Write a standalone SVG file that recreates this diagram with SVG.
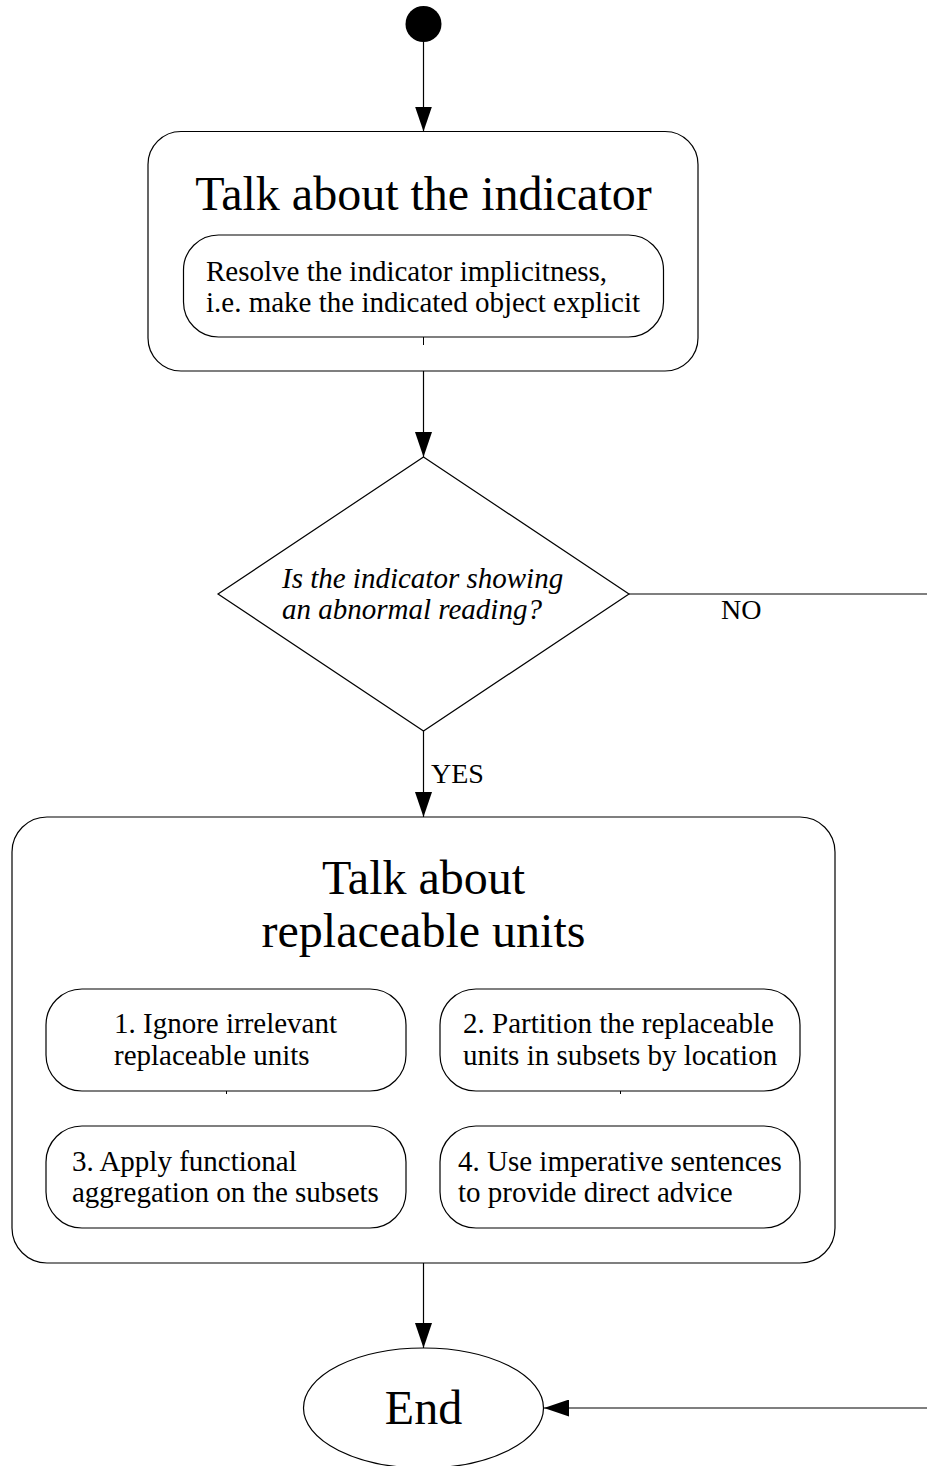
<svg xmlns="http://www.w3.org/2000/svg" width="927" height="1466" viewBox="0 0 927 1466">
  <style>
    .box { fill: #fff; stroke: #000; stroke-width: 1.2; }
    .edge { fill: none; stroke: #000; stroke-width: 1.2; }
    .tick { stroke: #000; stroke-width: 1; }
    text { font-family: "Liberation Serif", "Times New Roman", serif; fill: #000; }
    .title { font-size: 48px; text-anchor: middle; }
    .body { font-size: 29px; }
    .question { font-size: 29px; font-style: italic; }
    .label { font-size: 28px; }
  </style>
  <defs>
    <marker id="arrow" markerUnits="userSpaceOnUse" markerWidth="25" markerHeight="17" refX="25" refY="8.5" orient="auto">
      <path d="M0,0 L25,8.5 L0,17 Z" fill="#000"/>
    </marker>
  </defs>

  <rect width="927" height="1466" fill="#fff"/>

  <!-- flow connectors -->
  <g id="connectors">
    <line class="edge" x1="423.5" y1="42" x2="423.5" y2="131.5" marker-end="url(#arrow)"/>
    <line class="edge" x1="423.5" y1="371" x2="423.5" y2="457" marker-end="url(#arrow)"/>
    <line class="edge" x1="423.5" y1="731" x2="423.5" y2="817" marker-end="url(#arrow)"/>
    <text class="label" x="431" y="783">YES</text>
    <path class="edge" d="M629,594 H945 V1408 H544" marker-end="url(#arrow)"/>
    <text class="label" x="721" y="619">NO</text>
    <line class="edge" x1="423.5" y1="1263" x2="423.5" y2="1348" marker-end="url(#arrow)"/>
  </g>

  <!-- initial state -->
  <g id="start">
    <circle cx="423.5" cy="24" r="18" fill="#000"/>
  </g>

  <!-- state: talk about the indicator -->
  <g id="indicator">
    <rect class="box" x="148" y="131.5" width="550" height="239.5" rx="33" ry="33"/>
    <text class="title" x="423.5" y="210">Talk about the indicator</text>
    <rect class="box" x="183.5" y="235" width="480" height="102" rx="35" ry="35"/>
    <line class="tick" x1="423.5" y1="337" x2="423.5" y2="345"/>
    <text class="body" x="206" y="281">Resolve the indicator implicitness,</text>
    <text class="body" x="206" y="312">i.e. make the indicated object explicit</text>
  </g>

  <!-- decision -->
  <g id="decision">
    <polygon class="box" points="423.5,457 629,594 423.5,731 218,594"/>
    <text class="question" x="282" y="588">Is the indicator showing</text>
    <text class="question" x="282" y="619">an abnormal reading?</text>
  </g>

  <!-- state: talk about replaceable units -->
  <g id="units">
    <rect class="box" x="12" y="817" width="823" height="446" rx="35" ry="35"/>
    <text class="title" x="423.5" y="894">Talk about</text>
    <text class="title" x="423.5" y="947">replaceable units</text>

    <g id="step1">
      <rect class="box" x="46" y="989" width="360" height="102" rx="36" ry="36"/>
      <line class="tick" x1="226.5" y1="1091" x2="226.5" y2="1094"/>
      <text class="body" x="114" y="1033">1. Ignore irrelevant</text>
      <text class="body" x="114" y="1065">replaceable units</text>
    </g>
    <g id="step2">
      <rect class="box" x="440" y="989" width="360" height="102" rx="36" ry="36"/>
      <line class="tick" x1="620.5" y1="1091" x2="620.5" y2="1094"/>
      <text class="body" x="463" y="1033">2. Partition the replaceable</text>
      <text class="body" x="463" y="1065">units in subsets by location</text>
    </g>
    <g id="step3">
      <rect class="box" x="46" y="1126" width="360" height="102" rx="36" ry="36"/>
      <text class="body" x="72" y="1171">3. Apply functional</text>
      <text class="body" x="72" y="1202">aggregation on the subsets</text>
    </g>
    <g id="step4">
      <rect class="box" x="440" y="1126" width="360" height="102" rx="36" ry="36"/>
      <text class="body" x="458" y="1171">4. Use imperative sentences</text>
      <text class="body" x="458" y="1202">to provide direct advice</text>
    </g>
  </g>

  <!-- final state -->
  <g id="end">
    <ellipse class="box" cx="423.5" cy="1408" rx="120" ry="60"/>
    <text class="title" x="423.5" y="1424">End</text>
  </g>
</svg>
